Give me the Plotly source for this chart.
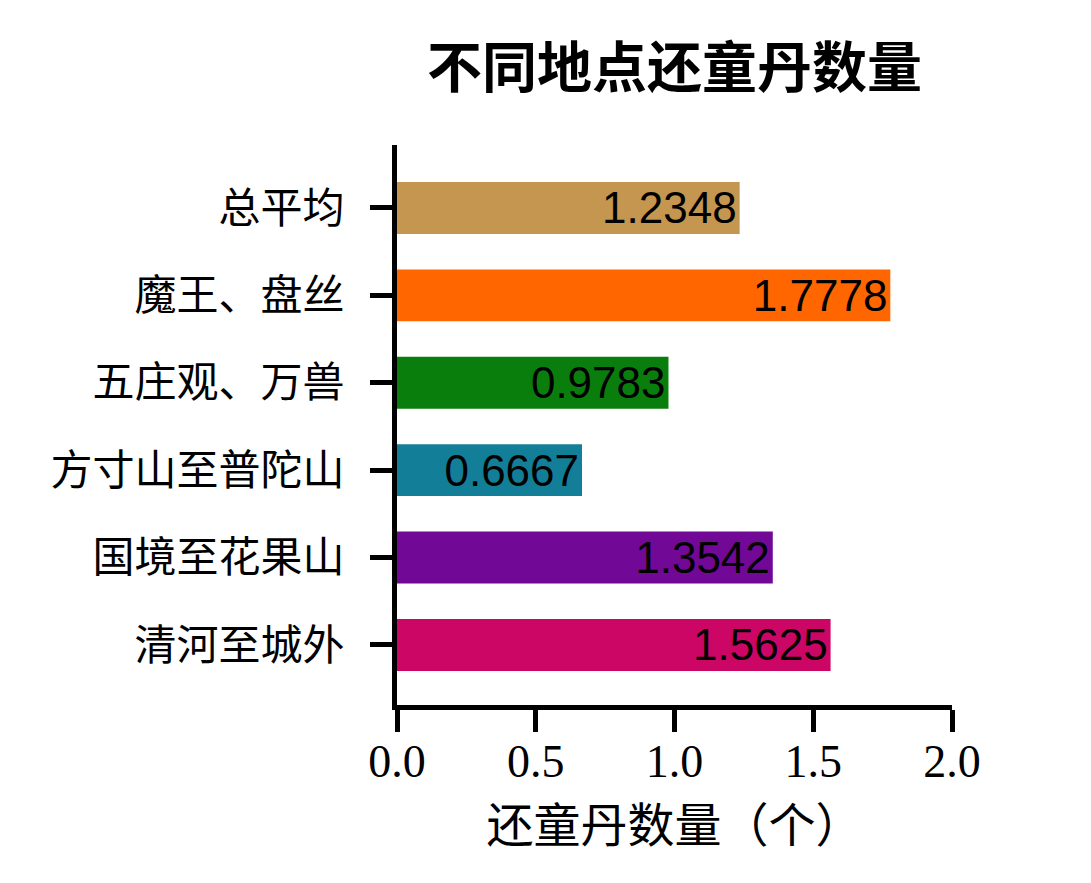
import plotly.graph_objects as go

categories = ["清河至城外", "国境至花果山", "方寸山至普陀山", "五庄观、万兽", "魔王、盘丝", "总平均"]
values = [1.5625, 1.3542, 0.6667, 0.9783, 1.7778, 1.2348]
labels = ["1.5625", "1.3542", "0.6667", "0.9783", "1.7778", "1.2348"]
colors = ["#CC0664", "#720896", "#137E98", "#0A7E0C", "#FF6600", "#C4964F"]
x_ticks = [0, 0.5, 1.0, 1.5, 2.0]
x_tick_text = ["0.0", "0.5", "1.0", "1.5", "2.0"]

cjk = "Noto Sans CJK SC"

fig = go.Figure(go.Bar(
    y=categories, x=values, orientation="h",
    marker=dict(color=colors, line=dict(width=0)),
    text=labels, textposition="inside", insidetextanchor="end",
    constraintext="none",
    textfont=dict(family="Liberation Sans, Arial", size=44, color="black"),
    cliponaxis=False,
))

fig.update_layout(
    width=1091, height=883,
    paper_bgcolor="white", plot_bgcolor="white",
    margin=dict(l=389, r=147, t=137, b=186),
    bargap=0.406,
    showlegend=False,
    title=dict(text="不同地点还童丹数量", x=0.5, xref="paper", xanchor="center",
               y=1 - 60/883, yref="container", yanchor="middle",
               font=dict(family=cjk, size=55, color="black", weight="bold")),
    xaxis=dict(range=[0, 2.0], tickvals=x_ticks, ticktext=x_tick_text,
               showline=True, linecolor="black", linewidth=5,
               ticks="outside", ticklen=22, tickwidth=5, tickcolor="black",
               showgrid=False, zeroline=False,
               tickfont=dict(family="Liberation Serif, DejaVu Serif", size=46, color="black"),
               ticklabelstandoff=-10,
               title=dict(text="还童丹数量（个）", standoff=8,
                          font=dict(family=cjk, size=47, color="black"))),
    yaxis=dict(type="category", categoryorder="array", categoryarray=categories,
               range=[-0.687, 5.72],
               showline=True, linecolor="black", linewidth=5,
               ticks="outside", ticklen=22, tickwidth=5, tickcolor="black",
               showgrid=False, zeroline=False,
               ticklabelstandoff=17,
               tickfont=dict(family=cjk, size=42, color="black")),
)

fig.write_html("out.html")
